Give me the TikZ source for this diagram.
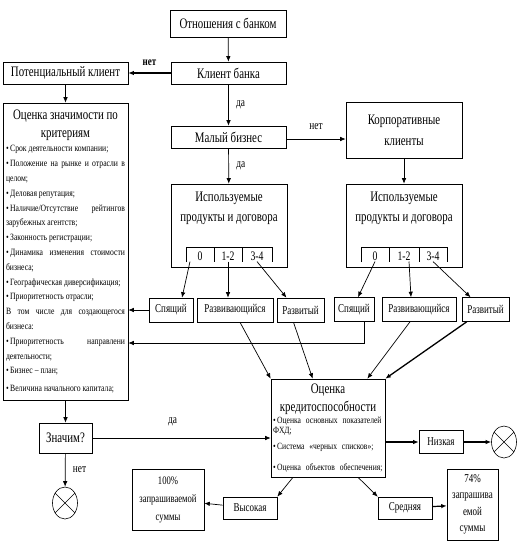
\documentclass[tikz,border=0pt]{standalone}
\usepackage{fontspec}
\setmainfont{Liberation Serif}[FakeStretch=0.75]
\newfontfamily\smallf{Liberation Serif}[FakeStretch=0.8]
\usepackage{tikz}
\usetikzlibrary{arrows.meta,shapes.geometric,calc}
\newcommand\bul{•\hspace{1.5pt}}

\tikzset{
  blk/.style={draw, line width=0.6pt, fill=white, inner sep=1pt, align=center, font=\fontsize{14.5}{18}\selectfont},
  sblk/.style={blk, font=\fontsize{12}{16}\selectfont},
  arr/.style={-{Latex[length=5.5pt,width=4.5pt]}, line width=0.7pt},
  tarr/.style={arr, line width=1.6pt},
  lbl/.style={font=\fontsize{12.5}{14}\selectfont},
  cell/.style={font=\fontsize{13}{15}\selectfont, inner sep=1pt},
  stopsign/.style={draw, ellipse, line width=0.6pt, minimum width=25, minimum height=32, inner sep=0pt},
}

\begin{document}
\begin{tikzpicture}[x=1pt,y=-1pt]
			\useasboundingbox (0,0) rectangle (517,552);
			% top chain
			\node[blk, minimum width=116, minimum height=27] (otn) at (228,23.5) {Отношения с банком};
			\node[blk, minimum width=115, minimum height=22] (klient) at (228.5,73) {Клиент банка};
			\node[blk, minimum width=125, minimum height=22] (potenc) at (65.5,73) {Потенциальный клиент};
			\node[blk, minimum width=115, minimum height=22] (malyj) at (228.5,137) {Малый бизнес};
			\node[blk, minimum width=116, minimum height=56, font=\fontsize{14.5}{21}\selectfont] (korp) at (404,130) {Корпоративные\\клиенты};
			% products boxes
			\node[blk, minimum width=116, minimum height=83] (prodL) at (229,225.5) {};
			\node[blk, minimum width=116, minimum height=83] (prodR) at (404,225.5) {};
			\node[font=\fontsize{14.5}{20}\selectfont, align=center] (prodLt) at (229,208) {Используемые\\продукты и договора};
			\node[font=\fontsize{14.5}{20}\selectfont, align=center] (prodRt) at (404,208) {Используемые\\продукты и договора};
			\draw[line width=0.6pt] (186,262) |- (272,247) -- (272,262) (214,247) -- (214,262) (242,247) -- (242,262);
			\draw[line width=0.6pt] (361,262) |- (447,247) -- (447,262) (389,247) -- (389,262) (419,247) -- (419,262);
			\node[cell] (cL0) at (200,256) {0};
			\node[cell] (cL12) at (228,256) {1-2};
			\node[cell] (cL34) at (257,256) {3-4};
			\node[cell] (cR0) at (375,256) {0};
			\node[cell] (cR12) at (404,256) {1-2};
			\node[cell] (cR34) at (433,256) {3-4};
			% client states
			\node[sblk, minimum width=44, minimum height=24] (spL) at (171,310) {Спящий};
			\node[sblk, minimum width=76, minimum height=24] (rzL) at (235,310) {Развивающийся};
			\node[sblk, minimum width=47, minimum height=24] (rtL) at (300.5,310) {Развитый};
			\node[sblk, minimum width=40, minimum height=24] (spR) at (354,309.5) {Спящий};
			\node[sblk, minimum width=74, minimum height=24] (rzR) at (419,309.5) {Развивающийся};
			\node[sblk, minimum width=47, minimum height=24] (rtR) at (485.5,309.5) {Развитый};
			% criteria box
			\node[blk, minimum width=125, minimum height=297, text width=119, align=justify, inner sep=3pt] (znach) at (65.5,251.5) {%
				{\centering\fontsize{14.5}{18}\selectfont Оценка значимости по\\критериям\par}
				\smallf\fontsize{9.6}{14.8}\selectfont
				\bul Срок деятельности компании;\par
				\bul Положение на рынке и отрасли в\linebreak целом;\par
				\bul Деловая репутация;\par
				\bul Наличие/Отсутствие рейтингов\linebreak зарубежных агентств;\par
				\bul Законность регистрации;\par
				\bul Динамика изменения стоимости\linebreak бизнеса;\par
				\bul Географическая диверсификация;\par
				\bul Приоритетность отрасли;\par
				В том числе для создающегося\linebreak бизнеса:\par
				\bul Приоритетность направлени\linebreak деятельности;\par
				\bul Бизнес – план;\par
				\bul Величина начального капитала;};
			\node[blk, minimum width=53, minimum height=30] (zn) at (65.5,438) {Значим?};
			\node[stopsign] (stop1) at (65,503) {};
			\draw[line width=0.6pt] (stop1.45) -- (stop1.225) (stop1.135) -- (stop1.315);
			% credit box
			\node[blk, minimum width=114, minimum height=98, text width=110, align=left, inner sep=2pt] (kred) at (328,428) {%
				{\centering\fontsize{14.5}{18}\selectfont Оценка\\кредитоспособности\par}
				\vspace{2pt}
				\smallf\fontsize{9.5}{10}\selectfont
				\bul Оценка основных показателей ФХД;\par\vspace{6pt}
				\bul Система «черных списков»;\par\vspace{3pt}
				\bul Оценка объектов обеспечения;};
			\node[sblk, minimum width=44, minimum height=23] (niz) at (441,442) {Низкая};
			\node[stopsign] (stop2) at (504,442) {};
			\draw[line width=0.6pt] (stop2.45) -- (stop2.225) (stop2.135) -- (stop2.315);
			\node[sblk, minimum width=54, minimum height=22] (vys) at (250,508) {Высокая};
			\node[sblk, minimum width=54, minimum height=22] (sred) at (405,508) {Средняя};
			\node[sblk, minimum width=72, minimum height=61, font=\fontsize{11.5}{18}\selectfont] (p100) at (168,499.5) {100\%\\запрашиваемой\\суммы};
			\node[sblk, minimum width=51, minimum height=71, font=\fontsize{12}{16.5}\selectfont] (p74) at (472.5,504.5) {74\%\\запрашива\\емой\\суммы};
			% connectors
			\draw[arr] (otn) -- (klient);
			\draw[arr, line width=1.3pt] (klient) -- node[above=3pt, font=\bfseries\fontsize{12}{13}\selectfont] {нет} (potenc);
			\draw[arr] (klient) -- node[right=4pt, lbl] {да} (malyj);
			\draw[arr] ([yshift=-2pt]malyj.east) -- node[above=6pt, lbl] {нет} ([yshift=-2pt]malyj.east -| korp.west);
			\draw[arr] (malyj) -- node[right=4pt, lbl] {да} (prodL);
			\draw[arr] (korp) -- (prodR);
			\draw[arr] (potenc) -- (znach);
			\draw[arr] ([xshift=-10pt]cL0.south) -- ([xshift=11pt]spL.north);
			\draw[arr] (cL12.south) -- (cL12.south |- rzL.north);
			\draw[arr] (cL34.south) -- ([xshift=-14pt]rtL.north);
			\draw[arr] (cR0.south) -- ([xshift=4pt]spR.north);
			\draw[arr] ([xshift=5pt]cR12.south) -- ([xshift=-8pt]rzR.north);
			\draw[arr] (cR34.south) -- ([xshift=-15pt]rtR.north);
			\draw[arr] (spL) -- (znach.east |- spL);
			\coordinate (sleepR) at (364,343);
			\draw[arr] (spR.south -| sleepR) -- (sleepR) -- (sleepR -| znach.east);
			\draw[arr] ([xshift=5pt]rzL.south) -- (kred.north west);
			\draw[arr] ([xshift=-7pt]rtL.south) -- ([xshift=42pt]kred.north west);
			\draw[arr] ([xshift=-9pt]rzR.south) -- ([xshift=-18pt]kred.north east);
			\draw[arr, line width=1.3pt] ([xshift=5pt]rtR.south west) -- (kred.north east);
			\draw[arr] (znach) -- (zn);
			\draw[arr] (zn) -- node[right=4pt, lbl] {нет} (stop1);
			\draw[arr] (zn) -- node[above=8pt, pos=0.45, lbl] {да} (zn -| kred.west);
			\draw[tarr] (kred.east |- niz) -- (niz);
			\draw[arr, line width=1.2pt] (niz) -- (stop2);
			\draw[arr] ([xshift=-35pt]kred.south) -- (vys.north east);
			\draw[arr] ([xshift=30pt]kred.south) -- (sred.north west);
			\draw[arr] (vys) -- (p100);
			\draw[arr, line width=1.2pt] (sred) -- (p74);
		\end{tikzpicture}
\end{document}
